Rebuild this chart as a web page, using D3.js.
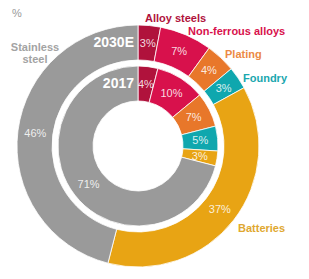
<!DOCTYPE html>
<html>
<head>
<meta charset="utf-8">
<script src="https://cdn.jsdelivr.net/npm/d3@7"></script>
<style>
  body { margin: 0; background: #fff; }
  svg { display: block; font-family: 'Liberation Sans', Arial, sans-serif; }
</style>
</head>
<body>
<div id="chart"></div>
<script>
// order goes clockwise from 12 o'clock
const categories = ['Alloy steels', 'Non-ferrous alloys', 'Plating', 'Foundry', 'Batteries', 'Stainless steel']
const values2030 = [3, 7, 4, 3, 37, 46]
const values2017 = [4, 10, 7, 5, 3, 71]
const colors = ['#b0123c', '#d8114c', '#e8772a', '#0fa7ae', '#e8a414', '#9a9a9a']
const labelColors = ['#b0123c', '#d8114c', '#ec8a44', '#1aa7ae', '#e0a830', '#a3a3a3']

const width = 309
const height = 279
const cx = 138
const cy = 146

const svg = d3
  .select('#chart')
  .append('svg')
  .attr('width', width)
  .attr('height', height)

const g = svg.append('g').attr('transform', `translate(${cx},${cy})`)

const pie = d3.pie().sort(null).value(d => d.value)

const colorScale = d3.scaleOrdinal().domain(categories).range(colors)
const labelScale = d3.scaleOrdinal().domain(categories).range(labelColors)

const rings = [
  { year: '2030E', values: values2030, inner: 86, outer: 121 },
  { year: '2017', values: values2017, inner: 45, outer: 80 }
]

rings.forEach(ring => {
  const data = categories.map((c, i) => ({ cat: c, value: ring.values[i] }))
  const arc = d3.arc().innerRadius(ring.inner).outerRadius(ring.outer)
  const arcs = pie(data)

  g.selectAll(null)
    .data(arcs)
    .enter()
    .append('path')
    .attr('d', arc)
    .attr('fill', d => colorScale(d.data.cat))
    .attr('stroke', '#fff')
    .attr('stroke-width', 0.8)

  g.selectAll(null)
    .data(arcs)
    .enter()
    .append('text')
    .attr('transform', d => `translate(${arc.centroid(d)})`)
    .attr('text-anchor', 'middle')
    .attr('dy', '0.35em')
    .attr('fill', '#fff')
    .attr('fill-opacity', 0.85)
    .style('font-size', '11px')
    .text(d => d.data.value + '%')

  // year label, just left of 12 o'clock
  g.append('text')
    .attr('x', -4)
    .attr('y', -(ring.inner + ring.outer) / 2)
    .attr('dy', '0.35em')
    .attr('text-anchor', 'end')
    .attr('fill', '#fff')
    .style('font-size', '14px')
    .style('font-weight', 'bold')
    .text(ring.year)
})

// category labels
const labels = [
  { cat: 'Alloy steels', x: 145, y: 18, anchor: 'start' },
  { cat: 'Non-ferrous alloys', x: 188, y: 31, anchor: 'start' },
  { cat: 'Plating', x: 225, y: 54, anchor: 'start' },
  { cat: 'Foundry', x: 243, y: 78, anchor: 'start' },
  { cat: 'Batteries', x: 238, y: 228, anchor: 'start' }
]

svg.selectAll('.cat-label')
  .data(labels)
  .enter()
  .append('text')
  .attr('class', 'cat-label')
  .attr('x', d => d.x)
  .attr('y', d => d.y)
  .attr('dy', '0.35em')
  .attr('text-anchor', d => d.anchor)
  .attr('fill', d => labelScale(d.cat))
  .style('font-size', '11px')
  .style('font-weight', 'bold')
  .text(d => d.cat)

const stainless = svg.append('text')
  .attr('text-anchor', 'middle')
  .attr('fill', labelScale('Stainless steel'))
  .style('font-size', '11px')
  .style('font-weight', 'bold')
stainless.append('tspan').attr('x', 35).attr('y', 51).text('Stainless')
stainless.append('tspan').attr('x', 35).attr('y', 63).text('steel')

svg.append('text')
  .attr('x', 12)
  .attr('y', 17)
  .attr('fill', '#999')
  .style('font-size', '11px')
  .text('%')
</script>
</body>
</html>
